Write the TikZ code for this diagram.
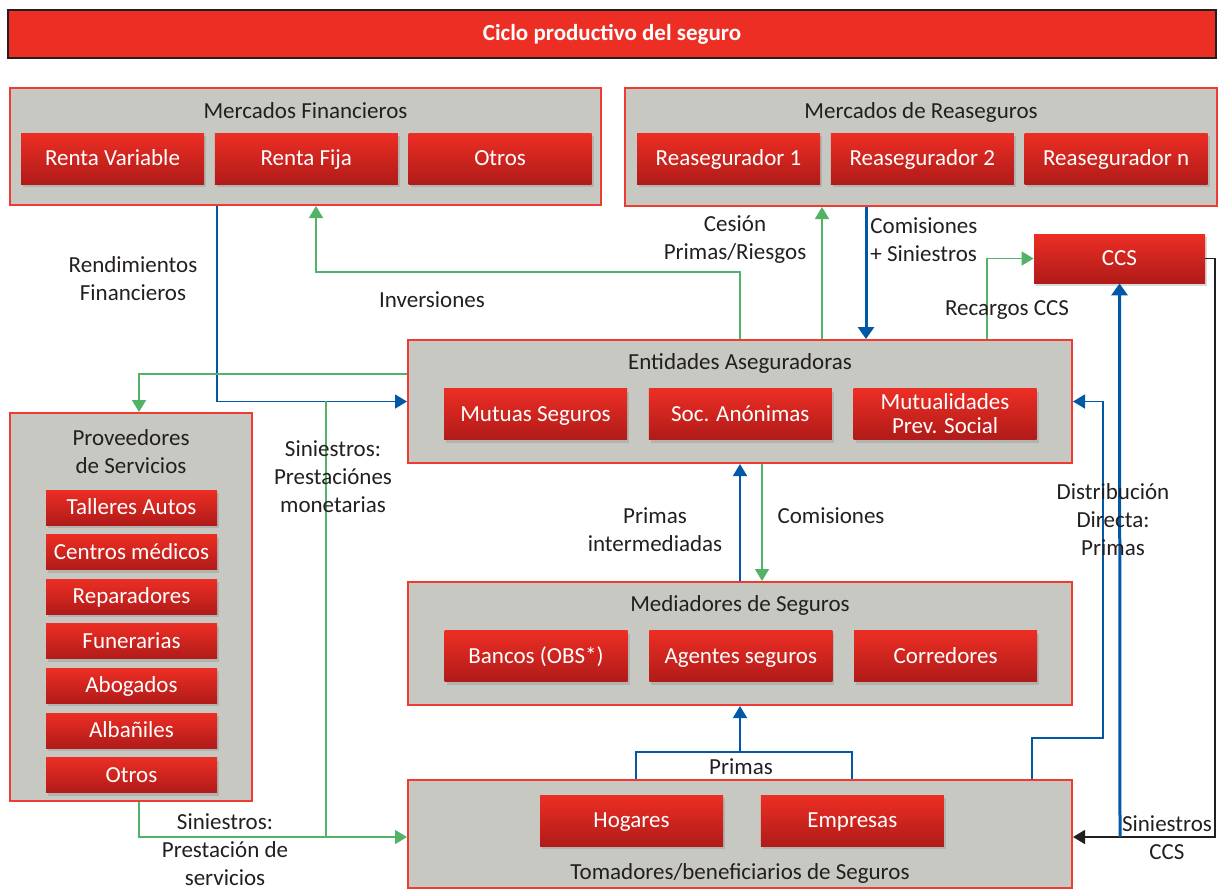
\documentclass[tikz,border=0pt]{standalone}
\usepackage{fontspec}
\setmainfont{Carlito}
\usetikzlibrary{shapes,arrows.meta,positioning,shadows,calc}
\definecolor{rojo}{RGB}{236,46,36}
\definecolor{rojoosc}{RGB}{176,27,25}
\definecolor{borde}{RGB}{238,60,50}
\definecolor{gris}{RGB}{200,200,195}
\definecolor{verde}{RGB}{82,178,102}
\definecolor{azul}{RGB}{0,88,166}
\definecolor{texto}{RGB}{35,31,32}
\tikzset{
    grupo/.style={rectangle, draw=borde, fill=gris, line width=1pt, inner sep=0pt},
    cajabase/.style={rectangle, top color=rojo, middle color=rojo, bottom color=rojoosc, text=white, minimum width=91.5pt, minimum height=25.5pt, inner sep=0pt, align=center, drop shadow={shadow xshift=1pt, shadow yshift=-1.5pt, opacity=0.3}},
    caja/.style={cajabase, text height=8pt, text depth=1pt},
    cajap/.style={caja, minimum width=85.5pt, minimum height=17.5pt},
    etiqueta/.style={text=texto, align=center, inner sep=1pt},
    flujoverde/.style={draw=verde, line width=0.8pt, -{Triangle[width=7pt,length=6pt]}},
    flujoazul/.style={draw=azul, line width=0.8pt, -{Triangle[width=7pt,length=6pt]}},
    flujoazulg/.style={draw=azul, line width=1.5pt, -{Triangle[width=8pt,length=6pt]}},
    flujonegro/.style={draw=texto, line width=0.8pt, -{Triangle[width=7pt,length=6pt]}}
}
\begin{document}
\begin{tikzpicture}[x=0.5pt, y=-0.5pt, font=\fontsize{11.5}{14}\selectfont]
    \useasboundingbox (0,0) rectangle (1219,890);

    % Title
    \node [rectangle, fill=rojo, draw=texto, line width=0.6pt, minimum width=604pt, minimum height=24pt, text=white, font=\fontsize{11.5}{14}\selectfont\bfseries] (titulo) at (612,34) {Ciclo productivo del seguro};

    % Mercados Financieros
    \node [grupo, minimum width=295.5pt, minimum height=58.5pt] (mf) at (305.5,146.5) {};
    \node [etiqueta] (mftit) at (305.5,111) {Mercados Financieros};
    \node [caja] (rv) at (112.5,158.5) {Renta Variable};
    \node [caja, right=5pt of rv] (rf) {Renta Fija};
    \node [caja, right=5pt of rf] (mfo) {Otros};

    % Mercados de Reaseguros
    \node [grupo, minimum width=296pt, minimum height=59pt] (mr) at (921,147) {};
    \node [etiqueta] (mrtit) at (921,112) {Mercados de Reaseguros};
    \node [caja] (re1) at (728.5,158.5) {Reasegurador 1};
    \node [caja, right=5pt of re1] (re2) {Reasegurador 2};
    \node [caja, right=5pt of re2] (ren) {Reasegurador n};

    % CCS
    \node [caja, minimum width=85.5pt, minimum height=24.5pt] (ccs) at (1119.5,258.5) {CCS};

    % Entidades Aseguradoras
    \node [grupo, minimum width=332pt, minimum height=61.5pt] (ea) at (740,401.5) {};
    \node [etiqueta] (eatit) at (740,363) {Entidades Aseguradoras};
    \node [caja] (mut) at (535.5,414) {Mutuas Seguros};
    \node [caja, right=10.5pt of mut] (soc) {Soc. Anónimas};
    \node [cajabase, right=10.5pt of soc] (mps) {Mutualidades\\[-2pt]Prev. Social};

    % Mediadores de Seguros
    \node [grupo, minimum width=332pt, minimum height=61.5pt] (med) at (740,643.5) {};
    \node [etiqueta] (medtit) at (740,605) {Mediadores de Seguros};
    \node [caja] (ban) at (536,656) {Bancos (OBS*)};
    \node [caja, right=10.5pt of ban] (age) {Agentes seguros};
    \node [caja, right=10.5pt of age] (cor) {Corredores};

    % Tomadores
    \node [grupo, minimum width=332pt, minimum height=54pt] (tom) at (740,834) {};
    \node [etiqueta] (tomtit) at (740,873) {Tomadores/beneficiarios de Seguros};
    \node [caja] (hog) at (631.5,820.5) {Hogares};
    \node [caja, right=18.5pt of hog] (emp) {Empresas};

    % Proveedores de Servicios
    \node [grupo, minimum width=121pt, minimum height=194pt] (prov) at (131,607) {};
    \node [etiqueta] (provtit) at (131,452) {Proveedores\\de Servicios};
    \foreach \nom [count=\i] in {Talleres Autos, Centros médicos, Reparadores, Funerarias, Abogados, Albañiles, Otros}
        \node [cajap] (p\i) at (131.5,462.9+44.6*\i) {\nom};

    % Connectors
    \draw [flujoazul] (mf.south -| 217,0) |- (ea.west);
    \draw [flujoverde] (ea.west |- 0,374) -| (prov.north -| 139,0);
    \draw [flujoverde] (ea.north) -- (740,272) -| (mf.south -| 316,0);
    \draw [flujoverde] (ea.north -| 822,0) -- (mr.south -| 822,0);
    \draw [flujoazulg] (mr.south -| 866,0) -- (ea.north -| 866,0);
    \draw [flujoverde] (ea.north -| 987,0) |- (ccs.west);
    \coordinate (sccs) at (1120,837);
    \draw [flujonegro] (ccs.east) -- (1215,258.5) |- (tom.east |- sccs);
    \draw [flujoazulg] (sccs) -- (ccs.south);
    \draw [flujoazul] (tom.north -| 1032,0) |- (1103,738) |- (ea.east);
    \draw [azul, line width=0.8pt] (tom.north -| 636,0) |- (852,752) -- (tom.north -| 852,0);
    \draw [flujoazul] (med.south |- 0,752) -- (med.south);
    \draw [flujoazul] (med.north) -- (ea.south);
    \draw [flujoverde] (ea.south -| 762,0) -- (med.north -| 762,0);
    \draw [verde, line width=0.8pt] (326,401) -- (326,837);
    \draw [flujoverde] (prov.south -| 139,0) |- (tom.west |- sccs);

    % Labels
    \node [etiqueta] (l1) at (133,279) {Rendimientos\\Financieros};
    \node [etiqueta] (l2) at (432,300) {Inversiones};
    \node [etiqueta] (l3) at (735,240) {Cesión\\Primas/Riesgos};
    \node [etiqueta, anchor=west, align=left] (l4) at (868,240) {Comisiones\\+ Siniestros};
    \node [etiqueta] (l5) at (1007,310) {Recargos CCS};
    \node [etiqueta] (l6) at (333,477) {Siniestros:\\Prestaciónes\\monetarias};
    \node [etiqueta] (l7) at (655,530) {Primas\\intermediadas};
    \node [etiqueta] (l8) at (831,516) {Comisiones};
    \node [etiqueta] (l9) at (1113,520) {Distribución\\Directa:\\Primas};
    \node [etiqueta] (l10) at (741,767) {Primas};
    \node [etiqueta] (l11) at (1167,838) {Siniestros\\CCS};
    \node [etiqueta] (l12) at (225,850) {Siniestros:\\Prestación de\\servicios};
\end{tikzpicture}
\end{document}
